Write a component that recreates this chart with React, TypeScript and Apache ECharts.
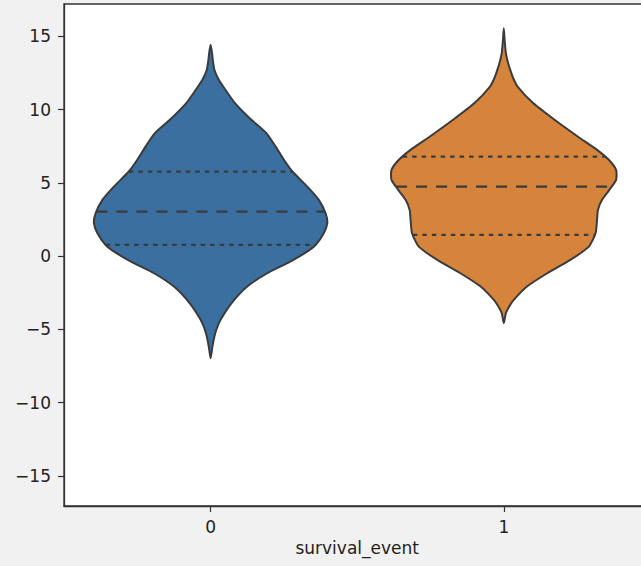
import React, { useEffect, useRef } from "react";
import * as echarts from "echarts";

// Category labels
const categories = ["0", "1"];
// Y tick labels
const yTicks = [-15, -10, -5, 0, 5, 10, 15];

// Violin profile for group "0": y values (top to bottom) and half-widths (category units)
const violin0Values = [14.42, 13.85, 13.3, 12.71, 12.1, 11.57, 10.44, 9.3, 8.39, 7.47, 6.57, 5.77, 4.74, 3.84, 2.93, 2.25, 1.56, 0.76, 0.2, -0.48, -1.17, -2.08, -3.22, -4.35, -5.0, -5.49, -6.2, -6.97];
const violin0Half = [0, 0.005, 0.008, 0.013, 0.026, 0.043, 0.083, 0.139, 0.19, 0.222, 0.25, 0.279, 0.33, 0.369, 0.392, 0.398, 0.386, 0.358, 0.321, 0.262, 0.193, 0.125, 0.071, 0.034, 0.02, 0.013, 0.006, 0];
// Violin profile for group "1"
const violin1Values = [15.55, 14.7, 13.85, 13.3, 12.71, 12.1, 11.57, 10.44, 9.3, 8.16, 7.25, 6.57, 5.88, 5.2, 4.52, 3.84, 3.15, 2.47, 1.56, 0.65, -0.26, -1.17, -2.08, -2.99, -3.45, -3.9, -4.58];
const violin1Half = [0, 0.003, 0.007, 0.013, 0.022, 0.033, 0.047, 0.1, 0.173, 0.252, 0.318, 0.358, 0.383, 0.383, 0.36, 0.335, 0.321, 0.318, 0.313, 0.29, 0.227, 0.148, 0.079, 0.034, 0.018, 0.007, 0];

// Quartiles [Q1, median, Q3]
const quartiles0 = [0.76, 3.04, 5.77];
const quartiles1 = [1.45, 4.74, 6.79];

const profiles = [
  { values: violin0Values, half: violin0Half, q: quartiles0, color: "#3a6fa0" },
  { values: violin1Values, half: violin1Half, q: quartiles1, color: "#d6843b" },
];

function halfAt(values: number[], half: number[], v: number) {
  for (let i = 0; i < values.length - 1; i++) {
    const a = values[i], b = values[i + 1];
    if ((v <= a && v >= b) || (v >= a && v <= b)) {
      const t = (v - a) / (b - a);
      return half[i] + t * (half[i + 1] - half[i]);
    }
  }
  return 0;
}

export default function App() {
  const ref = useRef<HTMLDivElement>(null);
  useEffect(() => {
    if (!ref.current) return;
    const chart = echarts.init(ref.current, null, { renderer: "svg" });
    const font = "DejaVu Sans";
    const lineColor = "#3b3b3b";
    chart.setOption({
      animation: false,
      backgroundColor: "#f1f1f1",
      grid: {
        left: 64,
        top: 4,
        bottom: 60,
        width: 586.4,
        show: true,
        backgroundColor: "#ffffff",
        borderColor: "#333333",
        borderWidth: 1.3,
      },
      xAxis: {
        type: "category",
        data: categories,
        boundaryGap: true,
        name: "survival_event",
        nameLocation: "middle",
        nameGap: 32,
        nameTextStyle: { fontFamily: font, fontSize: 17, color: "#222" },
        axisLine: { show: true, onZero: false, lineStyle: { color: "#333", width: 1.3 } },
        axisTick: { show: true, alignWithLabel: true, length: 6, lineStyle: { color: "#333", width: 1.2 } },
        axisLabel: { fontFamily: font, fontSize: 17, color: "#222", margin: 12 },
        splitLine: { show: false },
      },
      yAxis: {
        type: "value",
        min: -17.05,
        max: 17.2,
        axisLine: { show: true, onZero: false, lineStyle: { color: "#333", width: 1.3 } },
        axisTick: { show: true, length: 6, customValues: yTicks, lineStyle: { color: "#333", width: 1.2 } },
        axisLabel: {
          fontFamily: font,
          fontSize: 17,
          color: "#222",
          margin: 13,
          customValues: yTicks,
          formatter: (v: number) => String(v).replace("-", "\u2212"),
        },
        splitLine: { show: false },
      },
      series: [
        {
          type: "custom",
          data: [[0], [1]],
          encode: { x: 0 },
          renderItem: (params: any, api: any) => {
            const i = params.dataIndex;
            const p = profiles[i];
            const band = api.size([1, 0])[0];
            const right: number[][] = [];
            const left: number[][] = [];
            for (let k = 0; k < p.values.length; k++) {
              const c = api.coord([i, p.values[k]]);
              const w = p.half[k] * band;
              right.push([c[0] + w, c[1]]);
              left.push([c[0] - w, c[1]]);
            }
            const pts = right.concat(left.slice(1, -1).reverse());
            const children: any[] = [
              {
                type: "polygon",
                shape: { points: pts, smooth: 0.2 },
                style: { fill: p.color, stroke: lineColor, lineWidth: 2 },
              },
            ];
            p.q.forEach((qv: number, qi: number) => {
              const c = api.coord([i, qv]);
              const w = halfAt(p.values, p.half, qv) * band;
              children.push({
                type: "line",
                shape: { x1: c[0] - w, y1: c[1], x2: c[0] + w, y2: c[1] },
                style: {
                  stroke: lineColor,
                  lineWidth: 2.2,
                  lineDash: qi === 1 ? [11, 9] : [4.5, 5],
                },
              });
            });
            return { type: "group", children };
          },
        },
      ],
    });
    return () => chart.dispose();
  }, []);
  return (
    <div style={{ position: "fixed", left: 0, top: 0, width: 641, height: 566, overflow: "hidden" }}>
      <div ref={ref} style={{ width: 660, height: 566 }} />
    </div>
  );
}
